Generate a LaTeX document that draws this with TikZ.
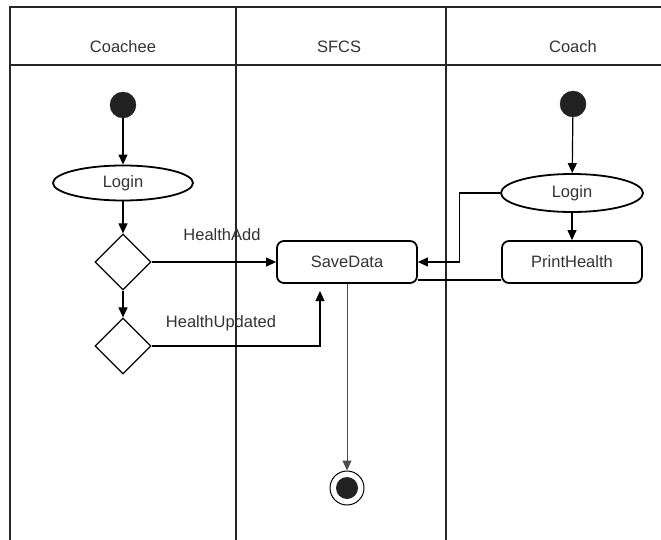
\documentclass[tikz,border=0pt]{standalone}
\usepackage{fontspec}
\setmainfont{Liberation Sans}
\usetikzlibrary{shapes.geometric,arrows.meta}
\definecolor{txt}{HTML}{333333}
\definecolor{dot}{HTML}{222222}
\tikzset{
  lane/.style={line width=2.2pt,draw=black!85},
  lbl/.style={font=\fontsize{16.5}{16.5}\selectfont,text=txt,inner sep=0pt},
  startdot/.style={circle,fill=dot,draw=dot,minimum size=26pt,inner sep=0pt},
  oval/.style={ellipse,draw=black,line width=1.8pt,minimum width=140pt,minimum height=35pt,inner sep=0pt,font=\fontsize{16.5}{16.5}\selectfont,text=txt},
  act/.style={rectangle,rounded corners=7pt,draw=black,line width=1.8pt,minimum width=140pt,minimum height=42pt,inner sep=0pt,font=\fontsize{16.5}{16.5}\selectfont,text=txt},
  dec/.style={diamond,draw=black,line width=1.2pt,minimum width=56pt,minimum height=56pt,inner sep=0pt},
  arr/.style={line width=1.2pt,-{Triangle[length=10pt,width=9pt]}},
  plain/.style={line width=1.2pt},
}
\begin{document}
\begin{tikzpicture}[x=1pt,y=-1pt]
\useasboundingbox (0,0) rectangle (661,540);
% swimlane frame
\draw[lane] (10,540) -- (10,7) -- (661,7);
\draw[line width=1.5pt,draw=black!85] (10,65) -- (661,65);
\draw[lane] (236,7) -- (236,540);
\draw[lane] (446,7) -- (446,540);
\node[lbl] (h1) at (123,47) {Coachee};
\node[lbl] (h2) at (339,47) {SFCS};
\node[lbl] (h3) at (573,47) {Coach};
% Coachee lane
\node[startdot] (s1) at (123,105) {};
\node[oval] (l1) at (123,183) {Login};
\node[dec] (d1) at (123,262) {};
\node[dec] (d2) at (123,346) {};
% SFCS lane
\node[act] (sd) at (347,262) {SaveData};
\node[circle,draw=black,line width=1pt,minimum size=34pt,inner sep=0pt] (fin) at (347,488) {};
\node[circle,fill=dot,minimum size=22pt,inner sep=0pt] (fini) at (347,488) {};
% Coach lane
\node[startdot] (s2) at (573,104) {};
\node[oval,minimum width=142pt,minimum height=38pt] (l2) at (572,193) {Login};
\node[act] (ph) at (572,262) {PrintHealth};
\coordinate (sdb) at (320,291);
% connectors
\draw[arr] (s1) -- (l1);
\draw[arr] (l1) -- (d1);
\draw[arr] (d1) -- (d2);
\draw[arr] (d1.east) -- (sd.west);
\draw[arr] (d2.east) -| (sdb);
\draw[arr] (s2) -- (l2);
\draw[arr] (l2) -- (ph);
\draw[arr] (l2.west) -- ++(-41,0) |- (sd.east);
\draw[plain] ([yshift=4pt]ph.south west) -- ([yshift=4pt]sd.south east);
\draw[line width=1pt,draw=black!70,-{Triangle[length=10pt,width=9pt]}] (sd.south) -- (fin.north);
\node[lbl] (la) at (222,235) {HealthAdd};
\node[lbl] (lb) at (221,323) {HealthUpdated};
\end{tikzpicture}
\end{document}
